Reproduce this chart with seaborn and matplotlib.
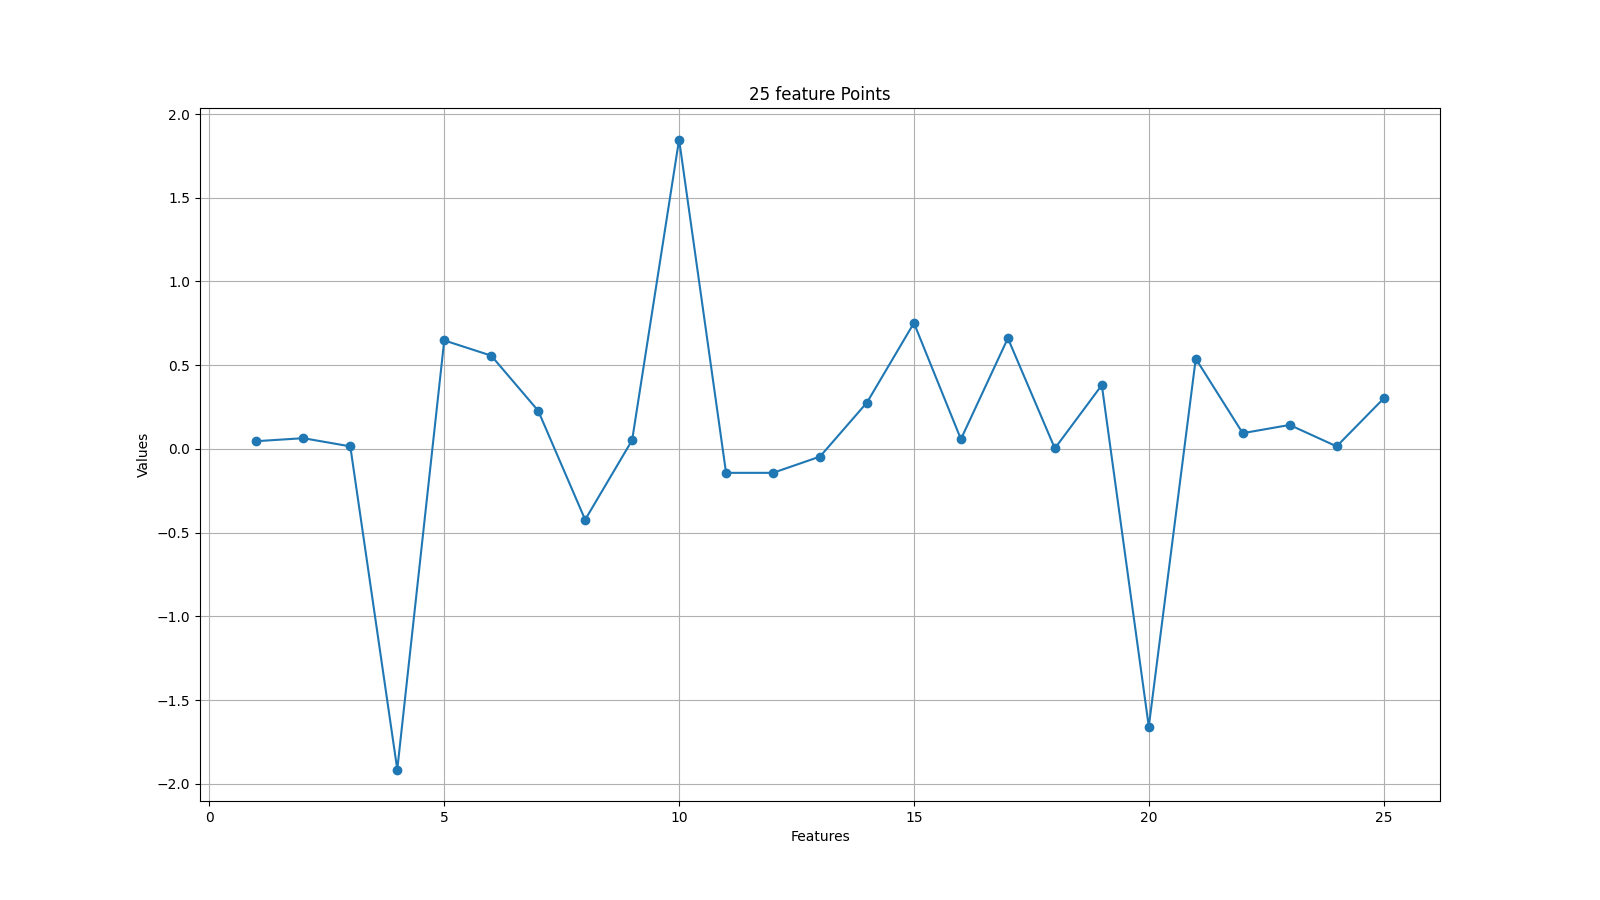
import numpy as np
import pandas as pd
import matplotlib
matplotlib.use("Agg")
import matplotlib.pyplot as plt
import seaborn as sns

# Feature values
features = list(range(1, 26))
values = [0.046, 0.064, 0.015, -1.915, 0.648, 0.557, 0.228, -0.423, 0.052, 1.848,
          -0.143, -0.143, -0.046, 0.277, 0.752, 0.058, 0.661, 0.003, 0.381, -1.659,
          0.539, 0.094, 0.143, 0.015, 0.301]

df = pd.DataFrame({"Features": features, "Values": values})

fig, ax = plt.subplots(figsize=(16, 9), dpi=100)
sns.lineplot(x="Features", y="Values", data=df, marker="o", color="#1f77b4",
             markeredgecolor="#1f77b4", markeredgewidth=1, markersize=6, ax=ax)
ax.grid(True)
ax.set_title("25 feature Points")
ax.set_xlabel("Features")
ax.set_ylabel("Values")
fig.savefig("out.png", dpi=100)
